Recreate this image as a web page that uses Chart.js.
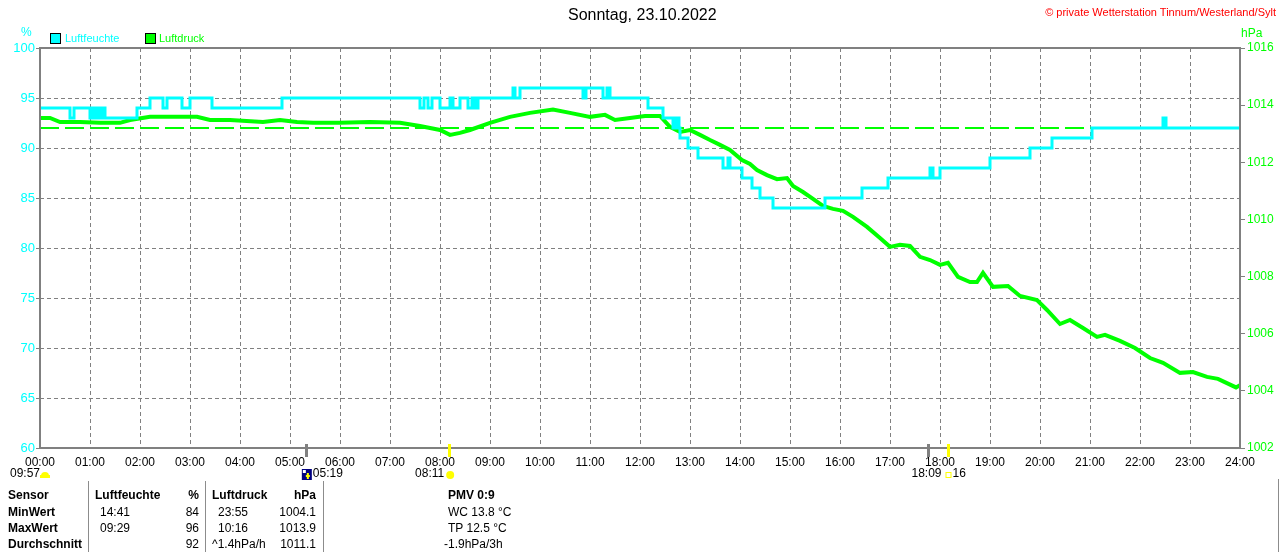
<!DOCTYPE html>
<html>
<head>
<meta charset="utf-8">
<title>Luftfeuchte / Luftdruck</title>
<script src="https://cdn.jsdelivr.net/npm/chart.js@4.4.1/dist/chart.umd.min.js"></script>
<style>
    body { margin: 0; background: #fff; }
    #wrap { position: relative; width: 1280px; height: 552px; overflow: hidden; font-family: "Liberation Sans", Arial, sans-serif; }
    #wrap canvas { position: absolute; left: 0; top: 0; }
    .t { position: absolute; white-space: nowrap; font-size: 12px; line-height: 14px; color: #000; }
    .b { font-weight: bold; }
    .box { position: absolute; width: 9px; height: 9px; border: 1px solid #000; }
    .vl { position: absolute; width: 1px; background: #8c8c8c; top: 481px; height: 71px; }
</style>
</head>
<body>
<div id="wrap">
    <canvas id="chart" width="1280" height="552"></canvas>

    <div class="t" style="left:568px; top:6px; font-size:16px; line-height:18px;">Sonntag, 23.10.2022</div>
    <div class="t" style="right:4px; top:5px; font-size:11px; color:#ff0000;">© private Wetterstation Tinnum/Westerland/Sylt</div>
    <div class="t" style="left:21px; top:25px; color:#00ffff;">%</div>
    <div class="t" style="left:1241px; top:26px; color:#00ff00;">hPa</div>

    <div class="box" style="left:50px; top:33px; background:#00ffff;"></div>
    <div class="t" style="left:65px; top:31px; font-size:11px; color:#00ffff;">Luftfeuchte</div>
    <div class="box" style="left:145px; top:33px; background:#00ff00;"></div>
    <div class="t" style="left:159px; top:31px; font-size:11px; color:#00ff00;">Luftdruck</div>

    <div class="vl" style="left:88px;"></div>
    <div class="vl" style="left:205px;"></div>
    <div class="vl" style="left:323px;"></div>
    <div class="vl" style="left:1278px; top:479px; height:73px;"></div>

    <div class="t b" style="left:8px; top:488px;">Sensor</div>
    <div class="t b" style="left:8px; top:505px;">MinWert</div>
    <div class="t b" style="left:8px; top:521px;">MaxWert</div>
    <div class="t b" style="left:8px; top:537px;">Durchschnitt</div>

    <div class="t b" style="left:95px; top:488px;">Luftfeuchte</div>
    <div class="t b" style="right:1081px; top:488px;">%</div>
    <div class="t" style="left:100px; top:505px;">14:41</div>
    <div class="t" style="right:1081px; top:505px;">84</div>
    <div class="t" style="left:100px; top:521px;">09:29</div>
    <div class="t" style="right:1081px; top:521px;">96</div>
    <div class="t" style="right:1081px; top:537px;">92</div>

    <div class="t b" style="left:212px; top:488px;">Luftdruck</div>
    <div class="t b" style="right:964px; top:488px;">hPa</div>
    <div class="t" style="left:218px; top:505px;">23:55</div>
    <div class="t" style="right:964px; top:505px;">1004.1</div>
    <div class="t" style="left:218px; top:521px;">10:16</div>
    <div class="t" style="right:964px; top:521px;">1013.9</div>
    <div class="t" style="left:212px; top:537px;">^1.4hPa/h</div>
    <div class="t" style="right:964px; top:537px;">1011.1</div>

    <div class="t b" style="left:448px; top:488px;">PMV 0:9</div>
    <div class="t" style="left:448px; top:505px;">WC 13.8 °C</div>
    <div class="t" style="left:448px; top:521px;">TP 12.5 °C</div>
    <div class="t" style="left:444px; top:537px;">-1.9hPa/3h</div>
</div>

<script>
// Luftfeuchte (%), Stufenwerte: Zeitpunkt (Stunden) und neuer Wert
var humTimes = [0, 0.6, 0.68, 1.0, 1.05, 1.1, 1.15, 1.2, 1.25, 1.3, 1.94, 2.2, 2.46, 2.54, 2.84, 3.0, 3.44, 4.84,
    7.6, 7.68, 7.76, 7.84, 8.0, 8.2, 8.26, 8.4, 8.56, 8.64, 8.7, 8.76, 9.46, 9.5, 9.6, 10.86, 10.92, 11.26, 11.34, 11.4,
    12.16, 12.46, 12.66, 12.72, 12.78, 12.8, 12.96, 13.16, 13.66, 13.76, 13.8, 14.04, 14.24, 14.4, 14.66, 15.7, 16.44,
    16.96, 17.8, 17.86, 18.0, 19.0, 19.8, 20.24, 21.04, 22.46, 22.52, 24.0]
var humValues = [94, 93, 94, 93, 94, 93, 94, 93, 94, 93, 94, 95, 94, 95, 94, 95, 94, 95,
    94, 95, 94, 95, 94, 95, 94, 95, 94, 95, 94, 95, 96, 95, 96, 95, 96, 95, 96, 95,
    94, 93, 92, 93, 92, 91, 90, 89, 88, 89, 88, 87, 86, 85, 84, 85, 86,
    87, 88, 87, 88, 89, 90, 91, 92, 93, 92, 92]
var humAvg = 92

// Luftdruck (hPa)
var pressTimes = [0, 0.2, 0.4, 0.8, 1.2, 1.6, 1.8, 2.2, 2.8, 3.14, 3.4, 3.8, 4.46, 4.8, 5.14, 5.46, 6.0, 6.6, 7.2, 7.6,
    8.0, 8.2, 8.4, 8.6, 9.0, 9.4, 9.8, 10.26, 10.6, 11.0, 11.3, 11.5, 11.8, 12.1, 12.4, 12.6, 12.8, 13.0, 13.2, 13.4,
    13.6, 13.8, 14.04, 14.2, 14.34, 14.54, 14.74, 14.94, 15.06, 15.26, 15.46, 15.66, 15.86, 16.06, 16.26, 16.54, 16.8, 17.0, 17.2, 17.4,
    17.6, 17.8, 18.0, 18.16, 18.36, 18.6, 18.74, 18.86, 19.06, 19.36, 19.6, 19.94, 20.14, 20.4, 20.6, 20.86, 21.14, 21.3, 21.6, 21.9,
    22.2, 22.46, 22.8, 23.06, 23.34, 23.56, 23.92, 24.0]
var pressValues = [1013.55, 1013.55, 1013.41, 1013.41, 1013.38, 1013.38, 1013.48, 1013.59, 1013.59, 1013.59,
    1013.48, 1013.48, 1013.41, 1013.48, 1013.41, 1013.38, 1013.38, 1013.41, 1013.38, 1013.27,
    1013.13, 1012.96, 1013.03, 1013.13, 1013.38, 1013.59, 1013.73, 1013.85, 1013.73, 1013.59,
    1013.66, 1013.48, 1013.55, 1013.62, 1013.62, 1013.24, 1013.06, 1013.13, 1012.96, 1012.78,
    1012.61, 1012.43, 1012.08, 1011.94, 1011.73, 1011.55, 1011.41, 1011.45, 1011.17, 1010.96,
    1010.72, 1010.47, 1010.37, 1010.30, 1010.09, 1009.74, 1009.35, 1009.04, 1009.11, 1009.07,
    1008.69, 1008.58, 1008.41, 1008.48, 1007.99, 1007.81, 1007.81, 1008.13, 1007.64, 1007.67,
    1007.32, 1007.18, 1006.83, 1006.34, 1006.48, 1006.20, 1005.89, 1005.96, 1005.75, 1005.50,
    1005.15, 1004.98, 1004.63, 1004.66, 1004.49, 1004.42, 1004.12, 1004.20]

// Achsen
var hourTicks = [0, 24, 1]          // min, max, step
var humTicks = [60, 100, 5]
var pressTicks = [1002, 1016, 2]

// Mond / Sonne (Stunden)
var moonRise = 5 + 19 / 60
var sunRise = 8 + 11 / 60
var moonSet = 17 + 46 / 60
var sunSet = 18 + 9 / 60

function toPoints(xs, ys) {
    var out = []
    for (var i = 0; i < xs.length; i++) out.push({ x: xs[i], y: ys[i] })
    return out
}

function pad2(n) { return (n < 10 ? '0' : '') + n }

var FONT = '"Liberation Sans", Arial, sans-serif'
Chart.defaults.font.family = FONT

var extras = {
    id: 'extras',
    afterDraw: function (chart) {
        var ctx = chart.ctx
        var a = chart.chartArea
        var xs = chart.scales.x
        ctx.save()
        // Rahmen
        ctx.strokeStyle = '#808080'
        ctx.lineWidth = 2
        ctx.strokeRect(a.left, a.top, a.right - a.left, a.bottom - a.top)

        // Markierungen unter der Achse
        function mark(t, color) {
            var x = Math.round(xs.getPixelForValue(t)) + 0.5
            ctx.strokeStyle = color
            ctx.lineWidth = 3
            ctx.beginPath()
            ctx.moveTo(x, a.bottom - 4)
            ctx.lineTo(x, a.bottom + 9)
            ctx.stroke()
        }
        mark(moonRise, '#808080')
        mark(sunRise, '#ffff00')
        mark(moonSet, '#808080')
        mark(sunSet, '#ffff00')

        ctx.font = '12px ' + FONT
        ctx.fillStyle = '#000'
        ctx.textBaseline = 'middle'
        var ty = a.bottom + 26

        // 09:57 + Wolke
        ctx.textAlign = 'left'
        ctx.fillText('09:57', 10, ty)
        ctx.fillStyle = '#ffff00'
        ctx.beginPath()
        ctx.arc(45, ty + 2, 4, Math.PI, 0)
        ctx.fill()
        ctx.fillRect(40, ty + 1, 10, 3)

        // Mondaufgang
        var mx = xs.getPixelForValue(moonRise) - 4
        ctx.fillStyle = '#000080'
        ctx.fillRect(mx, ty - 5, 10, 11)
        ctx.fillStyle = '#ffffff'
        ctx.fillRect(mx + 1, ty - 4, 3, 3)
        ctx.fillStyle = '#ffff00'
        ctx.fillRect(mx + 5, ty - 1, 2, 6)
        ctx.fillRect(mx + 4, ty + 1, 4, 2)
        ctx.fillStyle = '#000'
        ctx.fillText(pad2(Math.floor(moonRise)) + ':' + pad2(Math.round((moonRise % 1) * 60)), mx + 11, ty)

        // Sonnenaufgang
        var sx = xs.getPixelForValue(sunRise)
        ctx.textAlign = 'right'
        ctx.fillText('08:11', sx - 5, ty)
        ctx.fillStyle = '#ffff00'
        ctx.beginPath()
        ctx.arc(sx + 1, ty + 1, 4, 0, Math.PI * 2)
        ctx.fill()

        // Sonnenuntergang
        var ux = xs.getPixelForValue(sunSet)
        ctx.fillStyle = '#000'
        ctx.fillText('18:09', ux - 6, ty)
        ctx.strokeStyle = '#ffff00'
        ctx.lineWidth = 1
        ctx.strokeRect(ux - 1.5, ty - 1.5, 5, 5)
        ctx.textAlign = 'left'
        ctx.fillText('16', ux + 5, ty)
        ctx.restore()
    }
}

var ctx = document.getElementById('chart').getContext('2d')
new Chart(ctx, {
    type: 'line',
    data: {
        datasets: [{
            label: 'Luftfeuchte',
            data: toPoints(humTimes, humValues),
            yAxisID: 'yH',
            borderColor: '#00ffff',
            borderWidth: 3,
            stepped: true,
            pointRadius: 0
        }, {
            label: 'Durchschnitt',
            data: toPoints([hourTicks[0], hourTicks[1]], [humAvg, humAvg]),
            yAxisID: 'yH',
            borderColor: '#00ff00',
            borderWidth: 2,
            borderDash: [19, 6],
            pointRadius: 0
        }, {
            label: 'Luftdruck',
            data: toPoints(pressTimes, pressValues),
            yAxisID: 'yP',
            borderColor: '#00ff00',
            borderWidth: 4,
            pointRadius: 0
        }]
    },
    options: {
        responsive: false,
        devicePixelRatio: 1,
        animation: false,
        layout: { padding: { top: 48, left: 0, right: 0, bottom: 0 } },
        plugins: { legend: { display: false }, title: { display: false }, tooltip: { enabled: false } },
        scales: {
            x: {
                type: 'linear',
                min: hourTicks[0], max: hourTicks[1],
                afterFit: function (s) { s.height = 104 },
                ticks: {
                    stepSize: hourTicks[2], color: '#000', padding: 7, maxRotation: 0, autoSkip: false,
                    font: { size: 12 },
                    callback: function (v) { return pad2(v) + ':00' }
                },
                grid: { color: '#808080', drawTicks: false },
                border: { display: false, dash: [4, 3] }
            },
            yH: {
                position: 'left',
                min: humTicks[0], max: humTicks[1],
                afterFit: function (s) { s.width = 40 },
                ticks: { stepSize: humTicks[2], color: '#00ffff', padding: 1, font: { size: 13 } },
                grid: { color: '#808080', tickLength: 4, tickColor: '#808080', tickBorderDash: [] },
                border: { display: false, dash: [4, 3] }
            },
            yP: {
                position: 'right',
                min: pressTicks[0], max: pressTicks[1],
                afterFit: function (s) { s.width = 40 },
                ticks: {
                    stepSize: pressTicks[2], color: '#00ff00', padding: 2, font: { size: 12 },
                    callback: function (v) { return String(v) }
                },
                grid: { drawOnChartArea: false, tickLength: 5, tickColor: '#808080' },
                border: { display: false }
            }
        }
    },
    plugins: [extras]
})
</script>
</body>
</html>
